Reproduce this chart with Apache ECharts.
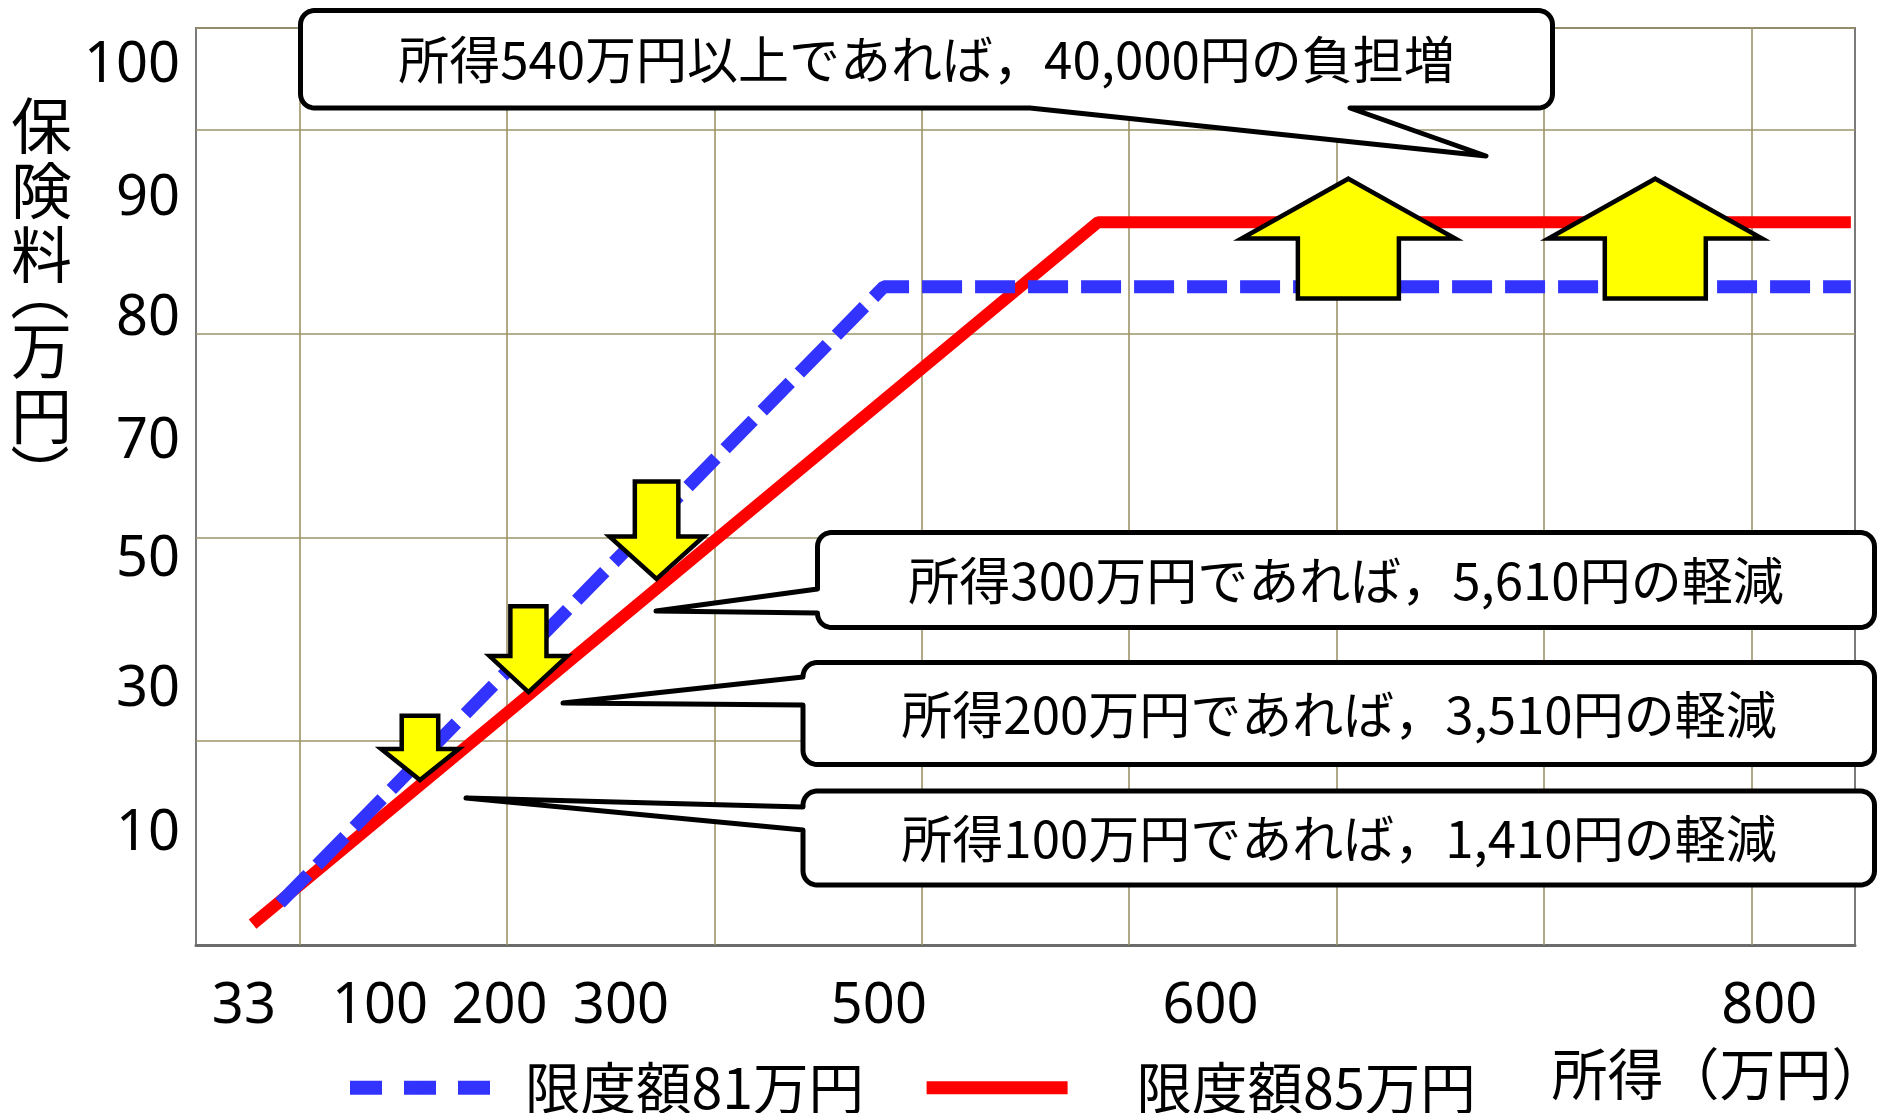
<!DOCTYPE html>
<html>
<head>
<meta charset="utf-8">
<script src="https://cdn.jsdelivr.net/npm/echarts@6/dist/echarts.min.js"></script>
<style>
html,body{margin:0;padding:0;background:#ffffff;}
#chart{width:1879px;height:1113px;}
</style>
</head>
<body>
<div id="chart"></div>
<script>
// ---------- data (chart units: one unit = one grid cell of the schematic) ----------
const seriesNames = ['限度額81万円', '限度額85万円'];
const limit81Line = [[0.405, 0.206], [3.317, 3.230], [7.98, 3.230]];
const limit85Line = [[0.273, 0.103], [4.350, 3.547], [7.98, 3.547]];
const xTickLabels = ['33', '100', '200', '300', '500', '600', '800'];
const xTickValues = [0.231, 0.887, 1.464, 2.049, 3.293, 4.892, 7.587];
const yTickLabels = ['100', '90', '80', '70', '50', '30', '10'];
const yTickValues = [4.311, 3.660, 3.071, 2.469, 1.888, 1.250, 0.543];
const xGridValues = [0.5, 1.5, 2.5, 3.5, 4.5, 5.5, 6.5, 7.5];
const downArrowTips = [[1.080, 0.795], [1.603, 1.227], [2.221, 1.782]];
const upArrowTips = [[5.557, 3.775], [7.037, 3.775]];
const calloutTexts = [
  '所得540万円以上であれば，40,000円の負担増',
  '所得300万円であれば，5,610円の軽減',
  '所得200万円であれば，3,510円の軽減',
  '所得100万円であれば，1,410円の軽減'
];
const xAxisTitle = '所得（万円）';
const yAxisTitleParts = ['保\n険\n料', '︵', '万\n円', '︶'];

// ---------- styles / layout ----------
const CJK = '"Noto Sans CJK JP", "Noto Sans", sans-serif';
const NUM = '"Noto Sans", "Noto Sans CJK JP", sans-serif';
const GRID_COLOR = '#9e9468';
const downArrowShapes = [
  { W: 82, w: 41, H: 71.6, h: 35 },
  { W: 82.3, w: 40.6, H: 93, h: 40 },
  { W: 98.8, w: 48, H: 104.6, h: 46.6 }
];
const upArrowShapes = [
  { W: 218, w: 105.5, H: 127, h: 64 },
  { W: 218, w: 105.5, H: 127, h: 64 }
];
// callout boxes in pixels: [x0, y0, x1, y1], tail {side, a, b, tip}
const calloutBoxes = [
  { box: [298, 8, 1555, 110.5], tail: { side: 'bottom', a: 1350, b: 1030, tip: [1486, 156] }, text: [926.5, 60] },
  { box: [815, 530, 1877, 630], tail: { side: 'left', a: 613, b: 589, tip: [656, 611] }, text: [1346, 581] },
  { box: [800.5, 660, 1877, 767], tail: { side: 'left', a: 705, b: 677, tip: [563, 703] }, text: [1339, 715] },
  { box: [800.5, 788.5, 1877, 887.5], tail: { side: 'left', a: 830, b: 807, tip: [466, 798] }, text: [1339, 839] }
];

function lookup(values, labels) {
  return function (v) {
    for (let i = 0; i < values.length; i++) {
      if (Math.abs(values[i] - v) < 1e-6) return labels[i];
    }
    return '';
  };
}

function calloutPoints(c, lw) {
  const h = lw / 2;
  const x0 = c.box[0] + h, y0 = c.box[1] + h, x1 = c.box[2] - h, y1 = c.box[3] - h;
  const r = 14;
  const pts = [];
  const arc = (cx, cy, a0, a1) => {
    for (let i = 0; i <= 8; i++) {
      const t = a0 + (a1 - a0) * i / 8;
      pts.push([cx + r * Math.cos(t), cy + r * Math.sin(t)]);
    }
  };
  arc(x0 + r, y0 + r, Math.PI, 1.5 * Math.PI);
  arc(x1 - r, y0 + r, 1.5 * Math.PI, 2 * Math.PI);
  arc(x1 - r, y1 - r, 0, 0.5 * Math.PI);
  if (c.tail.side === 'bottom') {
    pts.push([c.tail.a, y1], c.tail.tip, [c.tail.b, y1]);
  }
  arc(x0 + r, y1 - r, 0.5 * Math.PI, Math.PI);
  if (c.tail.side === 'left') {
    pts.push([x0, c.tail.a], c.tail.tip, [x0, c.tail.b]);
  }
  return pts;
}

function arrowRenderer(shapes, dir) {
  // dir = +1: arrow points down (body above tip); -1: arrow points up
  return function (params, api) {
    const p = api.coord([api.value(0), api.value(1)]);
    const s = shapes[params.dataIndex];
    const lw = 4.5;
    const W = s.W - lw, w = s.w - lw, H = s.H - lw * 1.6, h = s.h - lw * 0.9;
    const tipY = p[1] - dir * lw * 0.65;
    const rel = [[0, 0], [W / 2, h], [w / 2, h], [w / 2, H], [-w / 2, H], [-w / 2, h], [-W / 2, h]];
    const pts = rel.map(q => [p[0] + q[0], tipY - dir * q[1]]);
    return {
      type: 'polygon',
      shape: { points: pts },
      style: { fill: '#FFFF00', stroke: '#000000', lineWidth: lw, lineJoin: 'miter' }
    };
  };
}

const graphics = [];
calloutBoxes.forEach((c, i) => {
  graphics.push({
    type: 'polygon', z: 20,
    shape: { points: calloutPoints(c, 5) },
    style: { fill: '#ffffff', stroke: '#000000', lineWidth: 5, lineJoin: 'round' }
  });
  graphics.push({
    type: 'text', z: 21,
    x: c.text[0], y: c.text[1],
    style: { text: calloutTexts[i], fontSize: 51, fontFamily: CJK, fill: '#000000', align: 'center', verticalAlign: 'middle' }
  });
});
// y axis title, written vertically
graphics.push({
  type: 'text', z: 21, x: 41.5, y: 94,
  style: { text: yAxisTitleParts[0], fontSize: 61, lineHeight: 64.5, fontFamily: CJK, fill: '#000', align: 'center', verticalAlign: 'top' }
});
graphics.push({
  type: 'text', z: 21, x: 40, y: 292,
  style: { text: yAxisTitleParts[1], fontSize: 59, fontFamily: CJK, fill: '#000', align: 'center', verticalAlign: 'middle' }
});
graphics.push({
  type: 'text', z: 21, x: 41.5, y: 319,
  style: { text: yAxisTitleParts[2], fontSize: 61, lineHeight: 64.5, fontFamily: CJK, fill: '#000', align: 'center', verticalAlign: 'top' }
});
graphics.push({
  type: 'text', z: 21, x: 40, y: 474,
  style: { text: yAxisTitleParts[3], fontSize: 59, fontFamily: CJK, fill: '#000', align: 'center', verticalAlign: 'middle' }
});

const chart = echarts.init(document.getElementById('chart'), null, { renderer: 'canvas' });
const option = {
  animation: false,
  backgroundColor: '#ffffff',
  grid: {
    left: 196, top: 28, width: 1659, height: 917,
    containLabel: false, outerBoundsMode: 'none',
    show: true, borderColor: '#7a7a7a', borderWidth: 2, backgroundColor: 'transparent'
  },
  xAxis: {
    type: 'value', min: 0, max: 8,
    name: xAxisTitle, nameLocation: 'end', nameGap: -303.5,
    nameTextStyle: { fontSize: 56, fontFamily: CJK, color: '#000', align: 'left', verticalAlign: 'top', padding: [101, 0, 0, 0] },
    axisLine: { show: true, onZero: false, lineStyle: { color: '#6b6b6b', width: 3 } },
    axisTick: { show: false },
    splitLine: { show: false },
    axisLabel: {
      customValues: xTickValues, formatter: lookup(xTickValues, xTickLabels),
      fontSize: 56, fontFamily: NUM, color: '#000', margin: 34, hideOverlap: false
    }
  },
  yAxis: {
    type: 'value', min: 0, max: 4.5, interval: 1,
    axisLine: { show: false },
    axisTick: { show: false },
    splitLine: { show: true, lineStyle: { color: GRID_COLOR, width: 1.6 } },
    axisLabel: {
      customValues: yTickValues, formatter: lookup(yTickValues, yTickLabels),
      fontSize: 56, fontFamily: NUM, color: '#000', margin: 16, hideOverlap: false
    }
  },
  legend: {
    left: 343, top: 1060, padding: 0, orient: 'horizontal',
    itemWidth: 141, itemHeight: 14, itemGap: 56,
    selectedMode: false,
    textStyle: { fontSize: 55.5, fontFamily: CJK, color: '#000', padding: [0, 0, 0, 29] },
    data: [
      { name: seriesNames[0], lineStyle: { width: 14, type: [32, 22], color: '#3333FF' } },
      { name: seriesNames[1], lineStyle: { width: 13, color: '#FF0000' }, textStyle: { padding: [0, 0, 0, 64] } }
    ]
  },
  graphic: { elements: graphics },
  series: [
    {
      name: 'grid', type: 'line', data: [], silent: true, z: 1,
      markLine: {
        silent: true, z: 1, animation: false, symbol: ['none', 'none'],
        label: { show: false },
        lineStyle: { color: GRID_COLOR, width: 1.6, type: 'solid' },
        emphasis: { disabled: true },
        data: xGridValues.map(v => ({ xAxis: v }))
      }
    },
    {
      name: seriesNames[1], type: 'line', data: limit85Line, symbol: 'none', silent: true, z: 2,
      itemStyle: { color: '#FF0000' },
      lineStyle: { color: '#FF0000', width: 12, cap: 'butt', join: 'bevel' }
    },
    {
      name: seriesNames[0], type: 'line', data: limit81Line, symbol: 'none', silent: true, z: 3,
      itemStyle: { color: '#3333FF' },
      lineStyle: { color: '#3333FF', width: 13, type: [40, 13], cap: 'butt', join: 'bevel' }
    },
    {
      name: 'down', type: 'custom', data: downArrowTips, silent: true, z: 4,
      encode: { x: 0, y: 1 },
      renderItem: arrowRenderer(downArrowShapes, 1)
    },
    {
      name: 'up', type: 'custom', data: upArrowTips, silent: true, z: 4,
      encode: { x: 0, y: 1 },
      renderItem: arrowRenderer(upArrowShapes, -1)
    }
  ]
};
chart.setOption(option);
</script>
</body>
</html>
